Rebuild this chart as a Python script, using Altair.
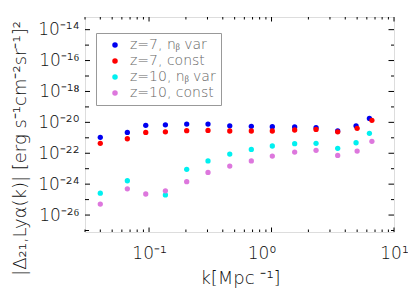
import json
import altair as alt
import pandas as pd

# ---- data ----
series_names = ["z=7, nᵦ var", "z=7, const", "z=10, nᵦ var", "z=10, const"]
series_colors = ["#0000f0", "#ff0000", "#00f0f0", "#dd77dd"]

k_a = [0.040, 0.0665, 0.094, 0.136, 0.203, 0.303, 0.456, 0.684, 1.015, 1.545, 2.31, 3.47, 4.9, 6.3]
k_b = [0.040, 0.0665, 0.094, 0.136, 0.203, 0.303, 0.456, 0.684, 1.015, 1.545, 2.31, 3.47, 5.0, 6.6]

z7_var = [1.07e-21, 2.24e-21, 6.46e-21, 6.9e-21, 7.8e-21, 7.8e-21, 6.0e-21, 5.5e-21,
          5.2e-21, 5.0e-21, 4.5e-21, 2.75e-21, 6.0e-21, 1.8e-20]
z7_const = [4.4e-22, 8.7e-22, 2.24e-21, 2.45e-21, 2.9e-21, 3.0e-21, 2.75e-21, 2.75e-21,
            2.75e-21, 3.2e-21, 3.5e-21, 2.45e-21, 4.1e-21, 1.35e-20]
z10_var = [2.6e-25, 1.66e-24, None, 2.0e-25, 9.1e-24, 3.2e-23, 8.9e-23, 1.78e-22,
           2.95e-22, 4.2e-22, 4.4e-22, 2.1e-22, 4.8e-22, 1.95e-21]
z10_const = [5.1e-26, 5.0e-25, 2.3e-25, 3.7e-25, 1.45e-24, 5.75e-24, 1.48e-23, 3.2e-23,
             6.6e-23, 1.2e-22, 1.55e-22, 7.2e-23, 1.38e-22, 5.9e-22]

x_domain = [0.03, 10]
y_domain = [8e-28, 6.6e-14]

x_label_values = [0.1, 1, 10]
x_labels = ["10⁻¹", "10⁰", "10¹"]
x_minor_ticks = [0.03, 0.04, 0.05, 0.06, 0.07, 0.08, 0.09,
                 0.2, 0.3, 0.4, 0.5, 0.6, 0.7, 0.8, 0.9,
                 2, 3, 4, 5, 6, 7, 8, 9]
y_label_values = [1e-26, 1e-24, 1e-22, 1e-20, 1e-18, 1e-16, 1e-14]
y_labels = ["10⁻²⁶", "10⁻²⁴", "10⁻²²", "10⁻²⁰", "10⁻¹⁸", "10⁻¹⁶", "10⁻¹⁴"]
y_minor_ticks = [1e-27, 1e-25, 1e-23, 1e-21, 1e-19, 1e-17, 1e-15]

x_title = "k[Mpc ⁻¹]"
y_title = "|Δ₂₁,Lyα(k)| [erg s⁻¹cm⁻²sr⁻¹]²"

# ---- build table ----
rows = []
for name, ks, vals in [(series_names[0], k_a, z7_var), (series_names[1], k_b, z7_const),
                       (series_names[2], k_a, z10_var), (series_names[3], k_b, z10_const)]:
    for k, v in zip(ks, vals):
        if v is not None:
            rows.append({"k": k, "v": v, "series": name})
df = pd.DataFrame(rows)

W, H = 309, 215
FONT = "DejaVu Sans"
WEIGHT = 200

xscale = alt.Scale(type="log", domain=x_domain, nice=False)
yscale = alt.Scale(type="log", domain=y_domain, nice=False)

x_expr = json.dumps(x_labels, ensure_ascii=False) + "[round(log(datum.value)/LN10)+1]"
y_expr = json.dumps(y_labels, ensure_ascii=False) + "[round(log(datum.value)/LN10/2)+13]"

points = alt.Chart(df).mark_circle(size=28, opacity=1).encode(
    x=alt.X("k:Q", scale=xscale, axis=alt.Axis(
        values=x_label_values, labelExpr=x_expr, ticks=False, tickSize=0, domain=False, grid=False,
        labelFont=FONT, labelFontSize=17, labelFontWeight=WEIGHT, labelColor="#111",
        labelPadding=13, labelFlush=False, labelOverlap=False,
        labelOffset={"condition": {"test": "datum.value == 1", "value": -10}, "value": 0},
        title=x_title, titleFont=FONT, titleFontSize=18, titleFontWeight=WEIGHT, titleColor="#111",
        titleX=155, titleY=51, titleAlign="center", titleBaseline="alphabetic")),
    y=alt.Y("v:Q", scale=yscale, axis=alt.Axis(
        values=y_label_values, labelExpr=y_expr, ticks=False, tickSize=0, domain=False, grid=False,
        labelFont=FONT, labelFontSize=17, labelFontWeight=WEIGHT, labelColor="#111",
        labelPadding=6, labelFlush=False, labelOverlap=False,
        title=y_title, titleFont=FONT, titleFontSize=18, titleFontWeight=WEIGHT, titleColor="#111",
        titleX=-65, titleY=131, titleAlign="center", titleBaseline="middle", titleAngle=270)),
    color=alt.Color("series:N", scale=alt.Scale(domain=series_names, range=series_colors),
                    legend=alt.Legend(title=None, orient="none", legendX=11, legendY=16,
                                      strokeColor="#999", fillColor="white", padding=5,
                                      symbolOffset=7, symbolType="circle", symbolSize=30,
                                      symbolStrokeWidth=0, labelFont=FONT, labelFontSize=14,
                                      labelFontWeight=WEIGHT, labelColor="#666", labelOffset=8,
                                      rowPadding=2, labelLimit=200)),
)


def xticks(values, length, top):
    d = pd.DataFrame({"k": values})
    if top:
        yy, yy2 = alt.value(0), alt.value(length)
    else:
        yy, yy2 = alt.value(H), alt.value(H - length)
    return alt.Chart(d).mark_rule(color="black", strokeWidth=1).encode(
        x=alt.X("k:Q", scale=xscale), y=yy, y2=yy2)


def yticks(values, length, right):
    d = pd.DataFrame({"v": values})
    if right:
        xx, xx2 = alt.value(W), alt.value(W - length)
    else:
        xx, xx2 = alt.value(0), alt.value(length)
    return alt.Chart(d).mark_rule(color="black", strokeWidth=1).encode(
        y=alt.Y("v:Q", scale=yscale), x=xx, x2=xx2)


chart = alt.layer(
    xticks(x_label_values, 4.5, False), xticks(x_label_values, 4.5, True),
    xticks(x_minor_ticks, 2.5, False), xticks(x_minor_ticks, 2.5, True),
    yticks(y_label_values, 5, False), yticks(y_minor_ticks, 4, False),
    yticks(y_label_values, 5.5, True), yticks(y_minor_ticks, 3, True),
    points,
).properties(
    width=W, height=H,
    autosize=alt.AutoSizeParams(type="none"),
    padding={"left": 77, "top": 9, "right": 14, "bottom": 58},
).configure_view(stroke="black", strokeWidth=1).configure(background="white")

chart.save("out.html", embed_options={"renderer": "svg", "actions": False})
